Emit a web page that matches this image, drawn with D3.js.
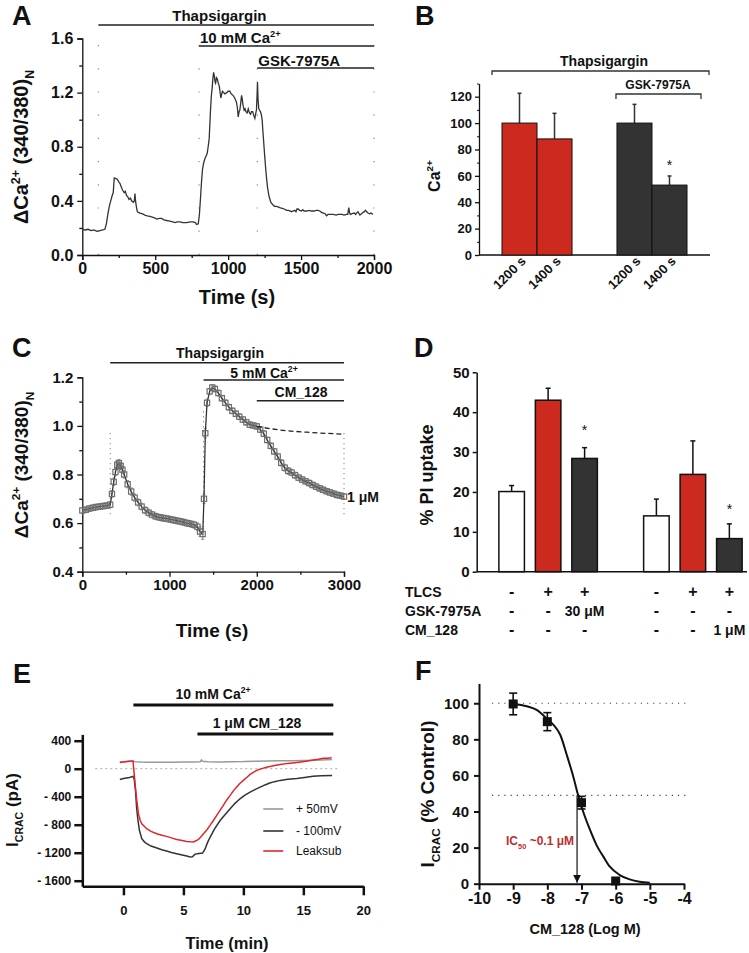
<!DOCTYPE html>
<html><head><meta charset="utf-8">
<script src="https://cdn.jsdelivr.net/npm/d3@7"></script>
<style>
body{margin:0;background:#fff;}
svg text{font-family:"Liberation Sans",Arial,Helvetica,sans-serif;font-weight:bold;fill:#111;}
</style></head><body>
<svg id="fig" width="749" height="953"></svg>
<script>
// ================= DATA =================
// Panel A: Fura-2 ratio trace
const aTime = [0,20,40,60,80,100,120,140,155,165,175,185,195,205,212,219,230,240,250,258,268,276,287,295,303,312,320,330,338,350,357,361,366,372,377,385,395,410,429,445,463,480,495,510,530,544,560,578,600,620,635,650,669,690,715,740,760,775,783,795,803,811,818,824,832,840,848,856,863,870,879,885,890,895,900,906,910,914,920,926,932,939,945,950,956,961,970,977,990,1000,1011,1022,1034,1045,1057,1063,1069,1075,1080,1086,1092,1097,1103,1110,1116,1122,1130,1138,1146,1154,1160,1168,1176,1183,1190,1194,1199,1201,1205,1210,1216,1221,1227,1233,1238,1244,1250,1258,1264,1270,1276,1281,1287,1292,1300,1308,1318,1331,1342,1354,1370,1385,1400,1415,1434,1445,1457,1465,1472,1480,1490,1503,1512,1520,1537,1555,1571,1590,1605,1617,1628,1640,1655,1665,1674,1685,1700,1720,1740,1755,1766,1780,1795,1811,1820,1827,1833,1838,1850,1865,1875,1880,1890,1903,1915,1925,1935,1941,1950,1959,1970,1980,1993];
const aRatio = [0.19,0.185,0.19,0.18,0.185,0.175,0.18,0.185,0.19,0.23,0.30,0.36,0.40,0.44,0.46,0.57,0.565,0.56,0.54,0.53,0.50,0.48,0.46,0.47,0.44,0.43,0.41,0.42,0.40,0.39,0.40,0.455,0.39,0.35,0.32,0.315,0.31,0.305,0.295,0.29,0.285,0.28,0.275,0.265,0.27,0.27,0.26,0.255,0.25,0.245,0.24,0.245,0.245,0.24,0.24,0.245,0.245,0.24,0.225,0.23,0.30,0.43,0.55,0.63,0.68,0.71,0.73,0.75,0.80,0.86,1.07,1.18,1.23,1.30,1.35,1.32,1.28,1.27,1.31,1.30,1.27,1.25,1.20,1.16,1.19,1.21,1.20,1.19,1.20,1.21,1.21,1.19,1.18,1.16,1.13,1.09,1.02,1.06,1.07,1.12,1.18,1.15,1.10,1.07,1.08,1.06,1.05,1.08,1.05,1.04,1.06,1.06,1.03,1.01,1.05,1.07,1.20,1.28,1.15,1.08,1.07,1.06,1.04,1.00,0.92,0.83,0.74,0.63,0.56,0.50,0.46,0.43,0.41,0.39,0.38,0.37,0.36,0.36,0.355,0.35,0.345,0.34,0.33,0.33,0.32,0.325,0.33,0.32,0.34,0.34,0.33,0.325,0.335,0.325,0.325,0.33,0.325,0.325,0.33,0.33,0.325,0.315,0.31,0.305,0.29,0.30,0.30,0.30,0.295,0.30,0.30,0.30,0.295,0.30,0.30,0.35,0.31,0.30,0.305,0.31,0.30,0.31,0.32,0.295,0.305,0.315,0.32,0.33,0.32,0.31,0.305,0.31,0.30];
const aMarkTimes = [110, 800, 1200, 2000];          // application times (s)
const aTreatLabels = ["Thapsigargin", "10 mM Ca", "GSK-7975A"];
const aTicksX = [0, 500, 1000, 1500, 2000];
const aTicksY = [0, 0.4, 0.8, 1.2, 1.6];

// Panel B: bar chart
const bGroupNames = ["Vehicle", "GSK-7975A"];
const bTimeLabels = ["1200 s", "1400 s"];
const bMeans = [[100, 88], [100, 53]];
const bErrs = [[22.6, 19.4], [14.2, 6.9]];
const bColors = ["#cc2a1e", "#333333"];
const bTicksY = [0, 20, 40, 60, 80, 100, 120];

// Panel C: mean trace with error bars
const cTime = [0,40,80,120,160,200,240,280,320,340,360,380,400,420,440,460,480,520,560,600,640,680,720,760,800,840,880,920,960,1000,1040,1080,1120,1160,1200,1240,1280,1320,1350,1380,1395,1410,1430,1460,1490,1520,1560,1600,1640,1680,1720,1760,1800,1840,1880,1920,1960,2000,2040,2080,2120,2160,2200,2240,2280,2320,2360,2400,2440,2480,2520,2560,2600,2640,2680,2720,2760,2800,2840,2880,2920,2960,3000];
const cRatio = [0.652,0.655,0.66,0.663,0.666,0.668,0.67,0.672,0.676,0.72,0.77,0.81,0.84,0.847,0.835,0.82,0.80,0.76,0.73,0.705,0.685,0.668,0.653,0.643,0.635,0.628,0.624,0.621,0.619,0.616,0.613,0.61,0.607,0.604,0.60,0.597,0.593,0.585,0.565,0.555,0.70,0.97,1.095,1.142,1.158,1.152,1.135,1.114,1.095,1.077,1.062,1.05,1.038,1.026,1.015,1.005,1.002,0.998,0.985,0.968,0.942,0.918,0.895,0.874,0.848,0.828,0.815,0.808,0.797,0.787,0.779,0.772,0.765,0.757,0.75,0.743,0.737,0.731,0.726,0.721,0.716,0.713,0.709];
const cErr = [0.012,0.012,0.012,0.012,0.012,0.012,0.012,0.012,0.012,0.014,0.015,0.015,0.015,0.015,0.015,0.015,0.015,0.015,0.015,0.015,0.014,0.014,0.014,0.014,0.013,0.013,0.013,0.013,0.013,0.013,0.013,0.013,0.013,0.013,0.013,0.013,0.014,0.016,0.02,0.022,0.02,0.02,0.015,0.012,0.012,0.012,0.012,0.012,0.012,0.012,0.012,0.012,0.012,0.012,0.012,0.012,0.012,0.012,0.012,0.012,0.012,0.012,0.012,0.013,0.013,0.014,0.014,0.013,0.013,0.012,0.012,0.012,0.012,0.012,0.012,0.012,0.012,0.012,0.012,0.012,0.012,0.012,0.012];
const cFitTime = [2000, 2267, 2573, 3000];
const cFitRatio = [0.998, 0.983, 0.974, 0.966];
const cMarkTimes = [320, 1390, 2000, 3000];
const cTicksX = [0, 1000, 2000, 3000];
const cTicksY = [0.4, 0.6, 0.8, 1.0, 1.2];

// Panel D: PI uptake bars
const dMeans = [[20.1, 43.0, 28.4], [14.0, 24.4, 8.3]];
const dErrs = [[1.5, 3.0, 2.7], [4.2, 8.4, 3.7]];
const dFill = ["#ffffff", "#cc2a1e", "#333333"];
const dRowNames = ["TLCS", "GSK-7975A", "CM_128"];
const dTLCS = ["-", "+", "+", "-", "+", "+"];
const dGSK = ["-", "-", "30 μM", "-", "-", "-"];
const dCM = ["-", "-", "-", "-", "-", "1 μM"];
const dStars = [[null, null, 36.3], [null, null, 16.5]];
const dTicksY = [0, 10, 20, 30, 40, 50];

// Panel E: I_CRAC currents
const ePosT = [-0.3,0,0.5,0.8,1,1.5,2,3,4,5,6,6.4,6.5,6.6,7,8,9,10,11,12,13,14,15,16,17,17.4];
const ePosI = [95,100,105,108,100,95,92,92,93,95,95,100,125,105,98,97,100,102,108,110,112,115,118,122,128,130];
const eNegT = [-0.3,0,0.5,0.8,0.9,1,1.1,1.2,1.33,1.53,1.75,1.94,2.3,2.78,3.2,3.6,4,4.44,4.9,5.28,5.56,5.75,5.97,6.3,6.6,6.8,7,7.22,7.6,8.06,8.5,8.9,9.3,9.72,10.1,10.56,11,11.4,11.8,12.2,12.6,13.06,13.7,14.45,15.1,15.8,16.5,17.4];
const eNegI = [-155,-140,-125,-110,-150,-300,-560,-720,-880,-1000,-1045,-1072,-1105,-1134,-1158,-1177,-1197,-1215,-1232,-1248,-1262,-1258,-1220,-1210,-1205,-1150,-1060,-980,-860,-740,-650,-572,-495,-430,-380,-334,-296,-263,-232,-205,-185,-167,-152,-140,-125,-108,-100,-96];
const eLeakT = [-0.3,0,0.5,0.8,0.92,1.08,1.25,1.4,1.53,1.94,2.3,2.78,3.2,3.6,4,4.44,4.9,5.28,5.6,5.83,6.05,6.25,6.45,6.67,6.95,7.22,7.5,7.78,8.05,8.33,8.6,8.9,9.15,9.44,9.7,10,10.3,10.56,10.9,11.25,11.6,11.94,12.5,13.06,13.7,14.45,15.1,15.83,16.25,16.67,17,17.36];
const eLeakI = [90,95,105,110,-120,-405,-643,-740,-786,-857,-895,-929,-950,-967,-988,-1010,-1025,-1039,-1045,-1046,-1030,-1010,-975,-929,-875,-810,-740,-667,-595,-524,-450,-381,-320,-262,-212,-167,-122,-81,-45,-14,5,21,42,60,76,90,104,124,135,148,150,157];
const eSeriesNames = ["+ 50mV", "- 100mV", "Leaksub"];
const eColors = ["#9a9a9a", "#333333", "#e0262b"];
const eCaStart = 0.83, eDrugStart = 6.17, eEnd = 17.5;
const eTicksX = [0, 5, 10, 15, 20];
const eTicksY = [400, 0, -400, -800, -1200, -1600];

// Panel F: concentration-response
const fLogC = [-9, -8, -7, -6];
const fMean = [99.6, 89.8, 44.9, 1.5];
const fErr = [6, 5, 3.5, 1];
const fFitX = [-9,-8.6,-8.3,-8,-7.82,-7.62,-7.43,-7.24,-7.1,-6.95,-6.75,-6.56,-6.36,-6.17,-5.88,-5.59,-5.3,-5];
const fFitY = [99.6,98.3,96.2,91.2,88,82.4,71.3,59.3,49.1,39.9,29.8,21.4,15,9.4,4.8,2.4,1.1,0.5];
const fIC50 = -7.13;
const fRefLines = [100, 49];
const fTicksX = [-10, -9, -8, -7, -6, -5, -4];
const fTicksY = [0, 20, 40, 60, 80, 100];

// ================= HELPERS =================
const svg = d3.select("#fig");

function rich(g, parts, size, o = {}) {
  const t = g.append("text").attr("x", o.x || 0).attr("y", o.y || 0).style("font-size", size + "px");
  if (o.anchor) t.attr("text-anchor", o.anchor);
  if (o.transform) t.attr("transform", o.transform);
  if (o.fill) t.style("fill", o.fill);
  if (o.weight) t.style("font-weight", o.weight);
  let shift = 0;
  parts.forEach(p => {
    let txt, s = 0, fs = size;
    if (typeof p === "string") txt = p;
    else { txt = p[1]; fs = size * 0.62; s = p[0] === "sup" ? -0.42 * size : 0.3 * size; }
    const dy = s - shift; shift = s;
    t.append("tspan").attr("dy", dy).style("font-size", fs + "px").text(txt);
  });
  return t;
}
function styleAxis(g, fs, sw) {
  g.selectAll("path,line").attr("stroke", "#111").attr("stroke-width", sw);
  g.selectAll("text").style("font-size", fs + "px").attr("fill", "#111");
}
function panelLabel(txt, x, y) {
  svg.append("text").attr("x", x).attr("y", y).style("font-size", "27px").text(txt);
}
function hline(g, x1, x2, y, w, col) {
  g.append("line").attr("x1", x1).attr("x2", x2).attr("y1", y).attr("y2", y)
    .attr("stroke", col || "#222").attr("stroke-width", w);
}

// ================= PANEL A =================
{
  const g = svg.append("g");
  const x = d3.scaleLinear().domain([0, 2000]).range([82.3, 374]);
  const y = d3.scaleLinear().domain([0, 1.6]).range([255, 38.5]);
  aMarkTimes.forEach(t => g.append("line").attr("x1", x(t)).attr("x2", x(t)).attr("y1", y(0)).attr("y2", 28)
    .attr("stroke", "#888").attr("stroke-width", 1.2).attr("stroke-dasharray", "1.2,22"));
  const ax = g.append("g").attr("transform", `translate(0,${y(0)})`)
    .call(d3.axisBottom(x).tickValues(aTicksX).tickSize(5).tickPadding(3).tickFormat(d3.format("d")));
  styleAxis(ax, 16, 1.3);
  const axm = g.append("g").attr("transform", `translate(0,${y(0)})`)
    .call(d3.axisBottom(x).tickValues([250, 750, 1250, 1750]).tickSize(3).tickFormat(""));
  styleAxis(axm, 16, 1.3); axm.select("path").remove();
  const ay = g.append("g").attr("transform", `translate(${x(0)},0)`)
    .call(d3.axisLeft(y).tickValues(aTicksY).tickSize(5).tickPadding(4).tickFormat(d3.format(".1f")));
  styleAxis(ay, 16, 1.3);
  const aym = g.append("g").attr("transform", `translate(${x(0)},0)`)
    .call(d3.axisLeft(y).tickValues([0.2, 0.6, 1.0, 1.4]).tickSize(3).tickFormat(""));
  styleAxis(aym, 16, 1.3); aym.select("path").remove();
  const pts = aTime.map((t, i) => [t, aRatio[i]]);
  g.append("path").datum(pts).attr("fill", "none").attr("stroke", "#333").attr("stroke-width", 1.3)
    .attr("d", d3.line().x(d => x(d[0])).y(d => y(d[1])));
  hline(g, x(aMarkTimes[0]), x(aMarkTimes[3]), 25, 1.5);
  g.append("text").attr("x", x(940)).attr("y", 20.5).attr("text-anchor", "middle").style("font-size", "15px").text(aTreatLabels[0]);
  hline(g, x(aMarkTimes[1]), x(aMarkTimes[3]), 46, 1.5);
  rich(g, [aTreatLabels[1], ["sup", "2+"]], 15, { x: x(aMarkTimes[1]) + 1, y: 43 });
  hline(g, x(aMarkTimes[2]), x(aMarkTimes[3]), 68, 1.5);
  g.append("text").attr("x", x(aMarkTimes[2]) + 1).attr("y", 65.5).style("font-size", "15px").text(aTreatLabels[2]);
  g.append("text").attr("x", 237).attr("y", 304).attr("text-anchor", "middle").style("font-size", "20px").text("Time (s)");
  rich(g, ["ΔCa", ["sup", "2+"], " (340/380)", ["sub", "N"]], 20, { anchor: "middle", transform: "translate(28,147) rotate(-90)" });
  panelLabel("A", 12, 25);
}

// ================= PANEL B =================
{
  const g = svg.append("g");
  const y = d3.scaleLinear().domain([0, 130]).range([255, 83.5]);
  const xg = d3.scaleBand().domain([0, 1]).range([502, 687]).paddingInner(0.391);
  const xi = d3.scaleBand().domain([0, 1]).range([0, xg.bandwidth()]);
  const ay = g.append("g").attr("transform", "translate(479,0)")
    .call(d3.axisLeft(y).tickValues(bTicksY).tickSize(4).tickPadding(3).tickSizeOuter(0));
  styleAxis(ay, 13, 1.3);
  const aym = g.append("g").attr("transform", "translate(479,0)")
    .call(d3.axisLeft(y).tickValues([10, 30, 50, 70, 90, 110, 130]).tickSize(2).tickFormat(""));
  styleAxis(aym, 13, 1); aym.select("path").remove();
  hline(g, 479, 710, y(0), 1.5, "#111");
  bMeans.forEach((grp, gi) => grp.forEach((v, i) => {
    const x0 = xg(gi) + xi(i), w = xi.bandwidth(), cx = x0 + w / 2;
    g.append("line").attr("x1", cx).attr("x2", cx).attr("y1", y(v)).attr("y2", y(v + bErrs[gi][i])).attr("stroke", "#333").attr("stroke-width", 1.5);
    g.append("line").attr("x1", cx - 2).attr("x2", cx + 2).attr("y1", y(v + bErrs[gi][i])).attr("y2", y(v + bErrs[gi][i])).attr("stroke", "#333").attr("stroke-width", 1.5);
    g.append("rect").attr("x", x0).attr("y", y(v)).attr("width", w).attr("height", y(0) - y(v))
      .attr("fill", bColors[gi]).attr("stroke", "#111").attr("stroke-width", 1);
    g.append("text").attr("text-anchor", "end").style("font-size", "13px")
      .attr("transform", `translate(${cx + 7},${y(0) + 7}) rotate(-45)`).text(bTimeLabels[i]);
  }));
  const sx = xg(1) + xi(1) + xi.bandwidth() / 2;
  g.append("text").attr("x", sx).attr("y", y(70.7) + 8).attr("text-anchor", "middle").style("font-size", "14px").style("font-weight", "normal").text("*");
  g.append("path").attr("d", "M492,75V71H709V75").attr("fill", "none").attr("stroke", "#333").attr("stroke-width", 1.3);
  g.append("text").attr("x", 604).attr("y", 66).attr("text-anchor", "middle").style("font-size", "14px").text("Thapsigargin");
  const bx1 = xg(1) - 1, bx2 = xg(1) + xg.bandwidth() + 14;
  g.append("path").attr("d", `M${bx1},99V94H${bx2}V99`).attr("fill", "none").attr("stroke", "#333").attr("stroke-width", 1.3);
  g.append("text").attr("x", 658).attr("y", 89).attr("text-anchor", "middle").style("font-size", "12px").text(bGroupNames[1]);
  rich(g, ["Ca", ["sup", "2+"]], 16, { anchor: "middle", transform: "translate(440,176) rotate(-90)" });
  panelLabel("B", 415, 25);
}

// ================= PANEL C =================
{
  const g = svg.append("g");
  const x = d3.scaleLinear().domain([0, 3000]).range([82.3, 344]);
  const y = d3.scaleLinear().domain([0.4, 1.2]).range([571.7, 377.3]);
  [[cMarkTimes[0], 0.97, 0.63], [cMarkTimes[1], 1.06, 0.54], [cMarkTimes[3], 0.97, 0.63]].forEach(d =>
    g.append("line").attr("x1", x(d[0])).attr("x2", x(d[0])).attr("y1", y(d[1])).attr("y2", y(d[2]))
      .attr("stroke", "#666").attr("stroke-width", 1).attr("stroke-dasharray", "1,4"));
  const ax = g.append("g").attr("transform", `translate(0,${y(0.4)})`)
    .call(d3.axisBottom(x).tickValues(cTicksX).tickSize(5).tickPadding(3).tickFormat(d3.format("d")));
  styleAxis(ax, 15, 1.3);
  const axm = g.append("g").attr("transform", `translate(0,${y(0.4)})`)
    .call(d3.axisBottom(x).tickValues([500, 1500, 2500]).tickSize(3).tickFormat(""));
  styleAxis(axm, 15, 1.3); axm.select("path").remove();
  const ay = g.append("g").attr("transform", `translate(${x(0)},0)`)
    .call(d3.axisLeft(y).tickValues(cTicksY).tickSize(5).tickPadding(4).tickFormat(d3.format(".1f")));
  styleAxis(ay, 15, 1.3);
  const aym = g.append("g").attr("transform", `translate(${x(0)},0)`)
    .call(d3.axisLeft(y).tickValues([0.5, 0.7, 0.9, 1.1]).tickSize(3).tickFormat(""));
  styleAxis(aym, 15, 1.3); aym.select("path").remove();
  cTime.forEach((t, i) => {
    g.append("line").attr("x1", x(t)).attr("x2", x(t)).attr("y1", y(cRatio[i] - cErr[i])).attr("y2", y(cRatio[i] + cErr[i]))
      .attr("stroke", "#777").attr("stroke-width", 0.8);
    [-1, 1].forEach(s => g.append("line").attr("x1", x(t) - 1.5).attr("x2", x(t) + 1.5)
      .attr("y1", y(cRatio[i] + s * cErr[i])).attr("y2", y(cRatio[i] + s * cErr[i])).attr("stroke", "#777").attr("stroke-width", 0.8));
  });
  const pts = cTime.map((t, i) => [t, cRatio[i]]);
  g.append("path").datum(pts).attr("fill", "none").attr("stroke", "#333").attr("stroke-width", 1.3)
    .attr("d", d3.line().x(d => x(d[0])).y(d => y(d[1])));
  g.selectAll(".csq").data(pts).enter().append("rect")
    .attr("x", d => x(d[0]) - 2.6).attr("y", d => y(d[1]) - 2.6).attr("width", 5.2).attr("height", 5.2)
    .attr("fill", "none").attr("stroke", "#6e6e6e").attr("stroke-width", 1.2);
  g.append("path").datum(cFitTime.map((t, i) => [t, cFitRatio[i]])).attr("fill", "none").attr("stroke", "#222")
    .attr("stroke-width", 1.3).attr("stroke-dasharray", "5,3")
    .attr("d", d3.line().curve(d3.curveMonotoneX).x(d => x(d[0])).y(d => y(d[1])));
  hline(g, x(cMarkTimes[0]), x(cMarkTimes[3]), 362.7, 1.5);
  g.append("text").attr("x", 220).attr("y", 358).attr("text-anchor", "middle").style("font-size", "14px").text("Thapsigargin");
  hline(g, x(cMarkTimes[1]), x(cMarkTimes[3]), 380, 1.5);
  rich(g, ["5 mM Ca", ["sup", "2+"]], 14, { x: 264, y: 377.5, anchor: "middle" });
  hline(g, x(cMarkTimes[2]), x(cMarkTimes[3]), 400.7, 1.5);
  g.append("text").attr("x", 301).attr("y", 397).attr("text-anchor", "middle").style("font-size", "14px").text("CM_128");
  g.append("text").attr("x", 347).attr("y", y(0.709) + 5).style("font-size", "14px").text("1 μM");
  g.append("text").attr("x", 212).attr("y", 637).attr("text-anchor", "middle").style("font-size", "19px").text("Time (s)");
  rich(g, ["ΔCa", ["sup", "2+"], " (340/380)", ["sub", "N"]], 19, { anchor: "middle", transform: "translate(28,465) rotate(-90)" });
  panelLabel("C", 12, 357);
}

// ================= PANEL D =================
{
  const g = svg.append("g");
  const y = d3.scaleLinear().domain([0, 50]).range([571.7, 372.3]);
  const xg = d3.scaleBand().domain([0, 1]).range([493.4, 747.6]).paddingInner(0.244);
  const xi = d3.scaleBand().domain([0, 1, 2]).range([0, xg.bandwidth()]).paddingInner(0.3).paddingOuter(0.15);
  const ay = g.append("g").attr("transform", "translate(476.7,0)")
    .call(d3.axisLeft(y).tickValues(dTicksY).tickSize(4).tickPadding(3).tickSizeOuter(0));
  styleAxis(ay, 15, 1.5);
  hline(g, 476.7, 747, y(0), 1.5, "#111");
  const centers = [];
  dMeans.forEach((grp, gi) => grp.forEach((v, i) => {
    const x0 = xg(gi) + xi(i), w = xi.bandwidth(), cx = x0 + w / 2;
    centers.push(cx);
    const top = y(v + dErrs[gi][i]);
    g.append("line").attr("x1", cx).attr("x2", cx).attr("y1", y(v)).attr("y2", top).attr("stroke", "#111").attr("stroke-width", 1.5);
    g.append("line").attr("x1", cx - 2.5).attr("x2", cx + 2.5).attr("y1", top).attr("y2", top).attr("stroke", "#111").attr("stroke-width", 1.5);
    g.append("rect").attr("x", x0).attr("y", y(v)).attr("width", w).attr("height", y(0) - y(v))
      .attr("fill", dFill[i]).attr("stroke", "#111").attr("stroke-width", 1.5);
    if (dStars[gi][i] != null)
      g.append("text").attr("x", cx).attr("y", y(dStars[gi][i]) + 8).attr("text-anchor", "middle")
        .style("font-size", "14px").style("font-weight", "normal").text("*");
  }));
  const rows = [dTLCS, dGSK, dCM], rowY = [597, 616, 635];
  rows.forEach((r, ri) => {
    g.append("text").attr("x", 405).attr("y", rowY[ri]).style("font-size", "14px").text(dRowNames[ri]);
    r.forEach((s, i) => g.append("text").attr("x", centers[i]).attr("y", rowY[ri]).attr("text-anchor", "middle")
      .style("font-size", s.length > 1 ? "14px" : "16px").text(s));
  });
  g.append("text").attr("text-anchor", "middle").attr("transform", "translate(433,475) rotate(-90)").style("font-size", "18px").text("% PI uptake");
  panelLabel("D", 414, 357);
}

// ================= PANEL E =================
{
  const g = svg.append("g");
  const x = d3.scaleLinear().domain([-3.43, 20]).range([82.3, 363.3]);
  const y = d3.scaleLinear().domain([-1680, 490]).range([886.3, 734.4]);
  const ay = g.append("g").attr("transform", `translate(${x(-3.43)},0)`)
    .call(d3.axisLeft(y).tickValues(eTicksY).tickSize(8).tickPadding(3).tickSizeOuter(0)
      .tickFormat(d => d < 0 ? "- " + Math.abs(d) : String(d)));
  styleAxis(ay, 12, 2.5);
  const ax = g.append("g").attr("transform", `translate(0,${y(-1680)})`)
    .call(d3.axisBottom(x).tickValues(eTicksX).tickSize(9).tickPadding(10).tickSizeOuter(0));
  styleAxis(ax, 13, 2.5);
  g.append("line").attr("x1", x(-2.35)).attr("x2", x(18.05)).attr("y1", y(0)).attr("y2", y(0))
    .attr("stroke", "#aaa").attr("stroke-width", 1).attr("stroke-dasharray", "2,3");
  const line = d3.line().x(d => x(d[0])).y(d => y(d[1]));
  [[ePosT, ePosI], [eNegT, eNegI], [eLeakT, eLeakI]].forEach((s, si) => {
    g.append("path").datum(s[0].map((t, i) => [t, s[1][i]])).attr("fill", "none")
      .attr("stroke", eColors[si]).attr("stroke-width", 1.5).attr("d", line);
  });
  eSeriesNames.forEach((n, i) => {
    const ly = [809, 831, 851][i];
    g.append("line").attr("x1", x(11.66)).attr("x2", x(13.33)).attr("y1", ly).attr("y2", ly).attr("stroke", eColors[i]).attr("stroke-width", 1.6);
    g.append("text").attr("x", 296).attr("y", ly + 4).style("font-size", "12px").style("font-weight", "normal").text(n);
  });
  hline(g, x(eCaStart), x(eEnd), 705, 3, "#111");
  rich(g, ["10 mM Ca", ["sup", "2+"]], 14, { x: 213, y: 699, anchor: "middle" });
  hline(g, x(eDrugStart), x(eEnd), 734, 3, "#111");
  g.append("text").attr("x", 257).attr("y", 727.5).attr("text-anchor", "middle").style("font-size", "14px").text("1 μM CM_128");
  g.append("text").attr("x", 227).attr("y", 949).attr("text-anchor", "middle").style("font-size", "16.5px").text("Time (min)");
  rich(g, ["I", ["sub", "CRAC"], " (pA)"], 17, { anchor: "middle", transform: "translate(18,810) rotate(-90)" });
  panelLabel("E", 13, 683);
}

// ================= PANEL F =================
{
  const g = svg.append("g");
  const x = d3.scaleLinear().domain([-10, -4]).range([479, 684]);
  const y = d3.scaleLinear().domain([0, 111]).range([883.7, 683.4]);
  fRefLines.forEach(v => g.append("line").attr("x1", x(-9.62)).attr("x2", x(-3.83)).attr("y1", y(v)).attr("y2", y(v))
    .attr("stroke", "#444").attr("stroke-width", 1.2).attr("stroke-dasharray", "1.2,5"));
  const ay = g.append("g").attr("transform", `translate(${x(-10)},0)`)
    .call(d3.axisLeft(y).tickValues(fTicksY).tickSize(5).tickPadding(5).tickSizeOuter(0));
  styleAxis(ay, 15, 2);
  const ax = g.append("g").attr("transform", `translate(0,${y(0)})`)
    .call(d3.axisBottom(x).tickValues(fTicksX).tickSize(6).tickPadding(3).tickSizeOuter(0)
      .tickFormat(d => String(d).replace("−", "-")));
  styleAxis(ax, 16, 2);
  g.append("path").datum(fFitX.map((v, i) => [v, fFitY[i]])).attr("fill", "none").attr("stroke", "#111").attr("stroke-width", 2)
    .attr("d", d3.line().curve(d3.curveMonotoneX).x(d => x(d[0])).y(d => y(d[1])));
  svg.append("defs").append("marker").attr("id", "arr").attr("viewBox", "0 0 10 10").attr("refX", 10).attr("refY", 5)
    .attr("markerWidth", 8).attr("markerHeight", 8).attr("markerUnits", "userSpaceOnUse").attr("orient", "auto")
    .append("path").attr("d", "M0,0L10,5L0,10z").attr("fill", "#111");
  g.append("line").attr("x1", x(fIC50)).attr("x2", x(fIC50)).attr("y1", y(fRefLines[1])).attr("y2", y(0) - 1)
    .attr("stroke", "#111").attr("stroke-width", 1.2).attr("marker-end", "url(#arr)");
  fLogC.forEach((c, i) => {
    const cx = x(c);
    if (fErr[i] > 1.5) {
      g.append("line").attr("x1", cx).attr("x2", cx).attr("y1", y(fMean[i] - fErr[i])).attr("y2", y(fMean[i] + fErr[i])).attr("stroke", "#111").attr("stroke-width", 1.6);
      [-1, 1].forEach(s => g.append("line").attr("x1", cx - 4).attr("x2", cx + 4).attr("y1", y(fMean[i] + s * fErr[i])).attr("y2", y(fMean[i] + s * fErr[i])).attr("stroke", "#111").attr("stroke-width", 1.6));
    }
    g.append("rect").attr("x", cx - 4.5).attr("y", y(fMean[i]) - 4.5).attr("width", 9).attr("height", 9).attr("fill", "#111");
  });
  rich(g, ["IC", ["sub", "50"], " ~0.1 μM"], 12, { x: 574, y: 845, anchor: "end", fill: "#b83030" });
  g.append("text").attr("x", 585).attr("y", 934).attr("text-anchor", "middle").style("font-size", "14.5px").text("CM_128 (Log M)");
  rich(g, ["I", ["sub", "CRAC"], " (% Control)"], 19, { anchor: "middle", transform: "translate(434,794) rotate(-90)" });
  panelLabel("F", 415, 680);
}
</script>
</body></html>
